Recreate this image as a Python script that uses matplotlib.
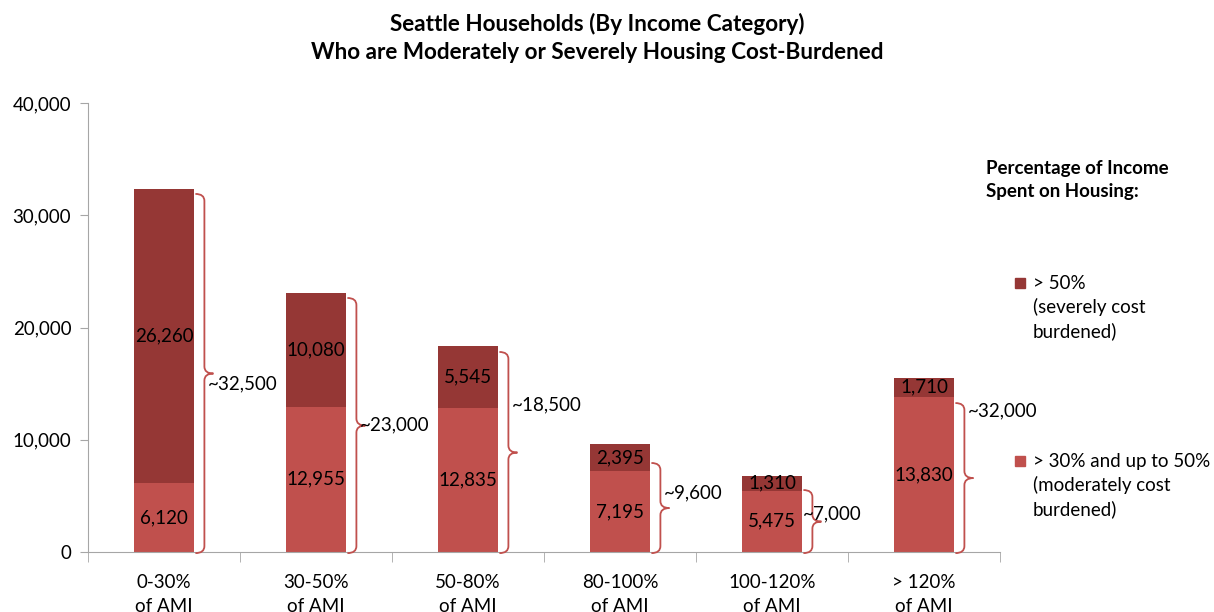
import matplotlib
matplotlib.use("Agg")
import matplotlib.pyplot as plt
import numpy as np
from matplotlib.path import Path
from matplotlib.patches import PathPatch, Rectangle

plt.rcParams['font.family'] = ['Lato', 'DejaVu Sans']

# data
categories = ['0-30%\nof AMI', '30-50%\nof AMI', '50-80%\nof AMI',
              '80-100%\nof AMI', '100-120%\nof AMI', '> 120%\nof AMI']
moderate = [6120, 12955, 12835, 7195, 5475, 13830]
severe = [26260, 10080, 5545, 2395, 1310, 1710]
brace_labels = ['~32,500', '~23,000', '~18,500', '~9,600', '~7,000', '~32,000']
brace_top = [31900, 22630, 17820, 7930, 5520, 13270]
brace_label_y = [14970, 11310, 13100, 5260, 3385, 12560]

c_mod = '#C0504D'
c_sev = '#953735'
c_brace = '#C0504D'

fig = plt.figure(figsize=(12.14, 6.12), dpi=100)
ax = fig.add_axes([88/1214, 1-552/612, 912/1214, 449/612])

x = np.arange(len(categories))
w = 0.4
ax.bar(x, moderate, w, color=c_mod, zorder=2)
ax.bar(x, severe, w, bottom=moderate, color=c_sev, zorder=2)

fs = 13.5
for i in range(len(x)):
    ax.text(x[i], moderate[i]/2, f'{moderate[i]:,}', ha='center', va='center', fontsize=fs, zorder=3)
    ax.text(x[i], moderate[i] + severe[i]/2, f'{severe[i]:,}', ha='center', va='center', fontsize=fs, zorder=3)

# curly braces
px_x = 152.0
px_y = 449/40000
bw = 18/px_x
r = 7/px_y
for i in range(len(x)):
    x0 = x[i] + w/2 + 1/px_x
    xm = x0 + bw/2
    xt = x0 + bw
    y1 = brace_top[i]
    y0 = -100
    ym = (y0 + y1)/2
    verts = [(x0, y1), (xm, y1), (xm, y1 - r), (xm, ym + r), (xm, ym), (xt, ym),
             (xm, ym), (xm, ym - r), (xm, y0 + r), (xm, y0), (x0, y0)]
    codes = [Path.MOVETO, Path.CURVE3, Path.CURVE3, Path.LINETO, Path.CURVE3, Path.CURVE3,
             Path.CURVE3, Path.CURVE3, Path.LINETO, Path.CURVE3, Path.CURVE3]
    ax.add_patch(PathPatch(Path(verts, codes), fill=False, ec=c_brace, lw=1.3, zorder=3, clip_on=False))
    lx = xt - 6/px_x
    if i == 4:
        lx = x[i] + w/2
    ax.text(lx, brace_label_y[i], brace_labels[i], ha='left', va='center', fontsize=fs, zorder=4)

ax.set_xlim(-0.5, len(x) - 0.5)
ax.set_ylim(0, 40000)
ax.set_yticks([0, 10000, 20000, 30000, 40000])
ax.set_yticklabels(['0', '10,000', '20,000', '30,000', '40,000'], fontsize=fs)
ax.set_xticks(x)
ax.set_xticklabels(categories, fontsize=fs, linespacing=1.5)
ax.set_xticks(np.arange(-0.5, len(x)), minor=True)
ax.tick_params(axis='x', which='major', length=0, pad=16)
ax.tick_params(axis='x', which='minor', length=7, color='#A6A6A6', direction='out')
ax.tick_params(axis='y', length=6, color='#A6A6A6', pad=6)
for s in ['top', 'right']:
    ax.spines[s].set_visible(False)
for s in ['left', 'bottom']:
    ax.spines[s].set_color('#A6A6A6')

fig.text(597/1214, 1-38/612, 'Seattle Households (By Income Category)\nWho are Moderately or Severely Housing Cost-Burdened',
         ha='center', va='center', fontsize=16.2, fontweight='bold', linespacing=1.45)

# legend
fig.text(986/1214, 1-180/612, 'Percentage of Income\nSpent on Housing:', ha='left', va='center',
         fontsize=fs, fontweight='bold', linespacing=1.4)
leg = [('> 50%\n(severely cost\nburdened)', c_sev, 283),
       ('> 30% and up to 50%\n(moderately cost\nburdened)', c_mod, 461)]
for txt, col, yy in leg:
    fig.add_artist(Rectangle(((1015)/1214, 1-(yy+5)/612), 10/1214, 10/612, color=col, transform=fig.transFigure))
    fig.text(1033/1214, 1-(yy-8)/612, txt, ha='left', va='top', fontsize=fs, linespacing=1.4)

fig.savefig('out.png', dpi=100)
